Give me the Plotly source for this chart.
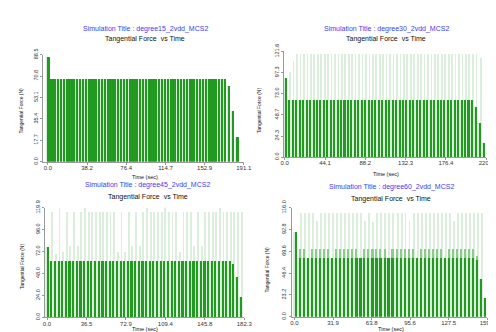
import plotly.graph_objects as go

W, H = 496, 332

# ---------------- data ----------------
titles = ["Simulation Title : degree15_2vdd_MCS2", "Simulation Title : degree30_2vdd_MCS2",
          "Simulation Title : degree45_2vdd_MCS2", "Simulation Title : degree60_2vdd_MCS2"]

t_15 = [0.0, 3.1, 6.2, 9.2, 12.3, 15.4, 18.5, 21.6, 24.6, 27.7, 30.8, 33.9, 37.0, 40.0, 43.1,
        46.2, 49.3, 52.4, 55.4, 58.5, 61.6, 64.7, 67.8, 70.8, 73.9, 77.0, 80.1, 83.2, 86.2, 89.3,
        92.4, 95.5, 98.6, 101.6, 104.7, 107.8, 110.9, 114.0, 117.0, 120.1, 123.2, 126.3, 129.4,
        132.4, 135.5, 138.6, 141.7, 144.8, 147.8, 150.9, 154.0, 157.1, 160.2, 163.2, 166.3, 169.4,
        172.5, 176.3, 180.3, 184.4]
f_15 = [87.0, 68.5, 68.5, 68.5, 68.5, 68.5, 68.5, 68.5, 68.5, 68.5, 68.5, 68.5, 68.5, 68.5, 68.5,
        68.5, 68.5, 68.5, 68.5, 68.5, 68.5, 68.5, 68.5, 68.5, 68.5, 68.5, 68.5, 68.5, 68.5, 68.5,
        68.5, 68.5, 68.5, 68.5, 68.5, 68.5, 68.5, 68.5, 68.5, 68.5, 68.5, 68.5, 68.5,
        68.5, 68.5, 68.5, 68.5, 68.5, 68.5, 68.5, 68.5, 68.5, 68.5, 68.5, 68.5, 68.5,
        68.5, 63.0, 42.0, 21.0]

t_30 = [0.0, 3.8, 7.5, 11.3, 15.1, 18.9, 22.6, 26.4, 30.2, 33.9, 37.7, 41.5, 45.2, 49.0, 52.8,
        56.6, 60.3, 64.1, 67.9, 71.6, 75.4, 79.2, 82.9, 86.7, 90.5, 94.3, 98.0, 101.8, 105.6,
        109.3, 113.1, 116.9, 120.6, 124.4, 128.2, 131.9, 135.7, 139.5, 143.3, 147.0, 150.8,
        154.6, 158.3, 162.1, 165.9, 169.7, 173.4, 177.2, 181.0, 184.7, 188.5, 192.3, 196.0,
        199.8, 203.6, 207.7, 212.3, 217.0]
f_30 = [90.0, 65.3, 65.3, 65.3, 65.3, 65.3, 65.3, 65.3, 65.3, 65.3, 65.3, 65.3, 65.3, 65.3, 65.3,
        65.3, 65.3, 65.3, 65.3, 65.3, 65.3, 65.3, 65.3, 65.3, 65.3, 65.3, 65.3, 65.3, 65.3,
        65.3, 65.3, 65.3, 65.3, 65.3, 65.3, 65.3, 65.3, 65.3, 65.3, 65.3, 65.3,
        65.3, 65.3, 65.3, 65.3, 65.3, 65.3, 65.3, 65.3, 65.3, 65.3, 65.3, 65.3,
        65.3, 65.3, 56.7, 39.0, 16.0]
s_30 = [0.0, 97.0, 110.0, 118.5, 118.5, 118.5, 118.5, 118.5, 118.5, 118.5, 118.5, 118.5, 118.5, 118.5, 118.5,
        118.5, 118.5, 118.5, 118.5, 118.5, 118.5, 118.5, 118.5, 118.5, 118.5, 118.5, 118.5, 118.5, 118.5,
        118.5, 118.5, 118.5, 118.5, 118.5, 118.5, 118.5, 118.5, 118.5, 118.5, 118.5, 118.5,
        118.5, 118.5, 118.5, 118.5, 118.5, 118.5, 118.5, 118.5, 118.5, 118.5, 118.5, 118.5,
        118.5, 118.5, 118.5, 114.0, 0.0]

t_45 = [0.0, 3.4, 6.7, 10.1, 13.5, 16.9, 20.2, 23.6, 27.0, 30.3, 33.7, 37.1, 40.4, 43.8, 47.2,
        50.6, 53.9, 57.3, 60.7, 64.0, 67.4, 70.8, 74.1, 77.5, 80.9, 84.3, 87.6, 91.0, 94.4, 97.7,
        101.1, 104.5, 107.8, 111.2, 114.6, 118.0, 121.3, 124.7, 128.1, 131.4, 134.8, 138.2,
        141.5, 144.9, 148.3, 151.7, 155.0, 158.4, 161.8, 165.1, 168.5, 171.6, 175.2, 179.1]
f_45 = [77.6, 61.7, 61.7, 61.7, 61.7, 61.7, 61.7, 61.7, 61.7, 61.7, 61.7, 61.7, 61.7, 61.7, 61.7,
        61.7, 61.7, 61.7, 61.7, 61.7, 61.7, 61.7, 61.7, 61.7, 61.7, 61.7, 61.7, 61.7, 61.7, 61.7,
        61.7, 61.7, 61.7, 61.7, 61.7, 61.7, 61.7, 61.7, 61.7, 61.7, 61.7, 61.7,
        61.7, 61.7, 61.7, 61.7, 61.7, 61.7, 61.7, 61.7, 61.7, 58.5, 44.8, 22.2]
s_45 = [0.0, 115.0, 70.0, 119.9, 72.0, 115.0, 78.0, 115.0, 78.0, 115.0, 119.9, 115.0, 115.0, 115.0, 115.0,
        115.0, 115.0, 115.0, 115.0, 72.0, 115.0, 72.0, 115.0, 78.0, 115.0, 78.0, 115.0, 119.9, 115.0, 115.0,
        115.0, 115.0, 119.9, 115.0, 115.0, 115.0, 72.0, 115.0, 115.0, 115.0, 78.0, 115.0,
        78.0, 115.0, 115.0, 115.0, 115.0, 119.9, 115.0, 115.0, 115.0, 115.0, 115.0, 115.0]

t_60 = [0.0, 3.3, 6.7, 10.0, 13.3, 16.7, 20.0, 23.3, 26.6, 30.0, 33.3, 36.6, 40.0, 43.3, 46.6,
        50.0, 53.3, 56.6, 59.9, 63.3, 66.6, 69.9, 73.3, 76.6, 79.9, 83.3, 86.6, 89.9, 93.2, 96.6,
        99.9, 103.2, 106.6, 109.9, 113.2, 116.6, 119.9, 123.2, 126.5, 129.9, 133.2, 136.5,
        139.9, 143.2, 146.5, 150.0, 153.2, 156.4]
f_60 = [90.0, 62.8, 62.8, 62.8, 62.8, 62.8, 62.8, 62.8, 62.8, 62.8, 62.8, 62.8, 62.8, 62.8, 62.8,
        62.8, 62.8, 62.8, 62.8, 62.8, 62.8, 62.8, 62.8, 62.8, 62.8, 62.8, 62.8, 62.8, 62.8, 62.8,
        62.8, 62.8, 62.8, 62.8, 62.8, 62.8, 62.8, 62.8, 62.8, 62.8, 62.8, 62.8,
        62.8, 62.8, 62.8, 60.4, 40.4, 20.6]
c_60 = [0.0, 72.0, 72.0, 0.0, 72.0, 72.0, 72.0, 72.0, 72.0, 0.0, 72.0, 72.0, 72.0, 72.0, 72.0,
        72.0, 0.0, 72.0, 72.0, 72.0, 72.0, 72.0, 72.0, 0.0, 72.0, 72.0, 72.0, 72.0, 72.0, 72.0,
        0.0, 72.0, 72.0, 72.0, 72.0, 72.0, 72.0, 0.0, 72.0, 72.0, 72.0, 72.0,
        72.0, 72.0, 72.0, 65.0, 0.0, 0.0]
s_60 = [0.0, 110.8, 110.8, 110.8, 110.8, 102.0, 110.8, 110.8, 110.8, 110.8, 110.8, 110.8, 110.8, 110.8, 110.8,
        110.8, 110.8, 102.0, 110.8, 101.0, 110.8, 110.8, 110.8, 110.8, 110.8, 110.8, 110.8, 110.8, 102.0, 110.8,
        110.8, 110.8, 110.8, 110.8, 110.8, 110.8, 110.8, 110.8, 110.8, 102.0, 110.8, 110.8,
        110.8, 110.8, 110.8, 110.8, 110.8, 0.0]

yticks_15 = [0.0, 17.7, 35.4, 53.1, 70.8, 88.5]
xticks_15 = [0.0, 38.2, 76.4, 114.7, 152.9, 191.1]
yticks_30 = [0.0, 24.3, 48.7, 73.0, 97.3, 121.6]
xticks_30 = [0.0, 44.1, 88.2, 132.3, 176.4, 220.5]
yticks_45 = [0.0, 24.0, 48.0, 72.0, 96.0, 119.9]
xticks_45 = [0.0, 36.5, 72.9, 109.4, 145.8, 182.3]
yticks_60 = [0.0, 23.2, 46.4, 69.6, 92.8, 116.0]
xticks_60 = [0.0, 31.9, 63.8, 95.6, 127.5, 159.4]

# ---------------- layout helpers ----------------
def px(x):
    return x / W

def py(y):
    return 1 - y / H

DARK = "#229a22"
PALE = "#d6edd6"
SPIKE = "#dcefdc"

panels = [
    dict(t=t_15, f=f_15, s=None, c=None, xt=xticks_15, yt=yticks_15, xr=[-4.5, 191.1],
         xd=(33, 238), yd=(150.7, 40), bw=1.9, period=3.08),
    dict(t=t_30, f=f_30, s=s_30, c=None, xt=xticks_30, yt=yticks_30, xr=[-1.0, 220.5],
         xd=(279, 486), yd=(146, 36.7), bw=2.2, period=3.77),
    dict(t=t_45, f=f_45, s=s_45, c=None, xt=xticks_45, yt=yticks_45, xr=[-1.5, 182.3],
         xd=(35.2, 238.5), yd=(311.7, 198.3), bw=2.0, period=3.37),
    dict(t=t_60, f=f_60, s=s_60, c=c_60, xt=xticks_60, yt=yticks_60, xr=[-2.4, 159.4],
         xd=(287, 487), yd=(311, 198.3), bw=1.8, period=3.33),
]

fig = go.Figure()
layout = dict(width=W, height=H, margin=dict(l=0, r=0, t=0, b=0),
              paper_bgcolor="white", plot_bgcolor="white", showlegend=False,
              barmode="overlay", bargap=0, font=dict(family="Liberation Sans, Arial", size=6, color="#333"))

for i, p in enumerate(panels):
    n = "" if i == 0 else str(i + 1)
    xa, ya = "x" + n, "y" + n
    fig.add_trace(go.Bar(x=p["t"], y=p["f"], width=p["period"], marker=dict(color=PALE, line=dict(width=0)),
                         xaxis=xa, yaxis=ya, hoverinfo="skip"))
    if p["s"] is not None:
        sx = [v + p["bw"] * 0.9 for v in p["t"]]
        fig.add_trace(go.Bar(x=sx, y=p["s"], width=0.8, marker=dict(color=SPIKE, line=dict(width=0)),
                             xaxis=xa, yaxis=ya, hoverinfo="skip"))
    if p["c"] is not None:
        cx = [v + p["bw"] * 0.6 for v in p["t"]]
        fig.add_trace(go.Bar(x=cx, y=p["c"], width=1.3, marker=dict(color="#8ccc8c", line=dict(width=0)),
                             xaxis=xa, yaxis=ya, hoverinfo="skip"))
    fig.add_trace(go.Bar(x=p["t"], y=p["f"], width=p["bw"], offset=0,
                         marker=dict(color=DARK, line=dict(width=0)),
                         xaxis=xa, yaxis=ya, hoverinfo="skip"))

    layout["xaxis" + n] = dict(domain=[px(p["xd"][0]), px(p["xd"][1])], range=p["xr"], anchor=ya,
                               tickvals=p["xt"], ticktext=["%.1f" % v for v in p["xt"]],
                               showgrid=False, zeroline=False, showline=True, linecolor="#999",
                               linewidth=1, ticks="outside", ticklen=2, tickcolor="#999",
                               ticklabelstandoff=-2,
                               tickfont=dict(size=6, color="#333"))
    layout["yaxis" + n] = dict(domain=[py(p["yd"][0]), py(p["yd"][1])], range=[0, p["yt"][-1]], anchor=xa,
                               tickvals=p["yt"], ticktext=["%.1f" % v for v in p["yt"]],
                               tickangle=-90, showgrid=False, zeroline=False, showline=True,
                               linecolor="#999", linewidth=1, ticks="outside", ticklen=2, tickcolor="#999",
                               tickfont=dict(size=5.5, color="#333"))

ann_pos = [
    dict(title=(138, 13), sub=(137, 24), xt=(137, 166), yt=(10, 98)),
    dict(title=(384, 13), sub=(383, 24), xt=(383, 163), yt=(253, 97)),
    dict(title=(140, 175), sub=(140, 187), xt=(137, 324), yt=(12, 259)),
    dict(title=(389, 177), sub=(389, 189), xt=(389, 324), yt=(262, 262)),
]
annotations = []
for i, a in enumerate(ann_pos):
    annotations.append(dict(text=titles[i], x=px(a["title"][0]), y=py(a["title"][1]), xref="paper", yref="paper",
                            showarrow=False, font=dict(size=7, color="#3c3cf0"), xanchor="center", yanchor="middle"))
    annotations.append(dict(text="Tangential Force  vs Time", x=px(a["sub"][0]), y=py(a["sub"][1]), xref="paper",
                            yref="paper", showarrow=False, font=dict(size=7, color="#111"),
                            xanchor="center", yanchor="middle"))
    annotations.append(dict(text="Time (sec)", x=px(a["xt"][0]), y=py(a["xt"][1]), xref="paper", yref="paper",
                            showarrow=False, font=dict(size=5.5, color="#111"), xanchor="center", yanchor="middle"))
    annotations.append(dict(text="Tangential Force (N)", x=px(a["yt"][0]), y=py(a["yt"][1]), xref="paper",
                            yref="paper", showarrow=False, textangle=-90, font=dict(size=5, color="#111"),
                            xanchor="center", yanchor="middle"))
layout["annotations"] = annotations

fig.update_layout(**layout)
fig.write_html("out.html")
